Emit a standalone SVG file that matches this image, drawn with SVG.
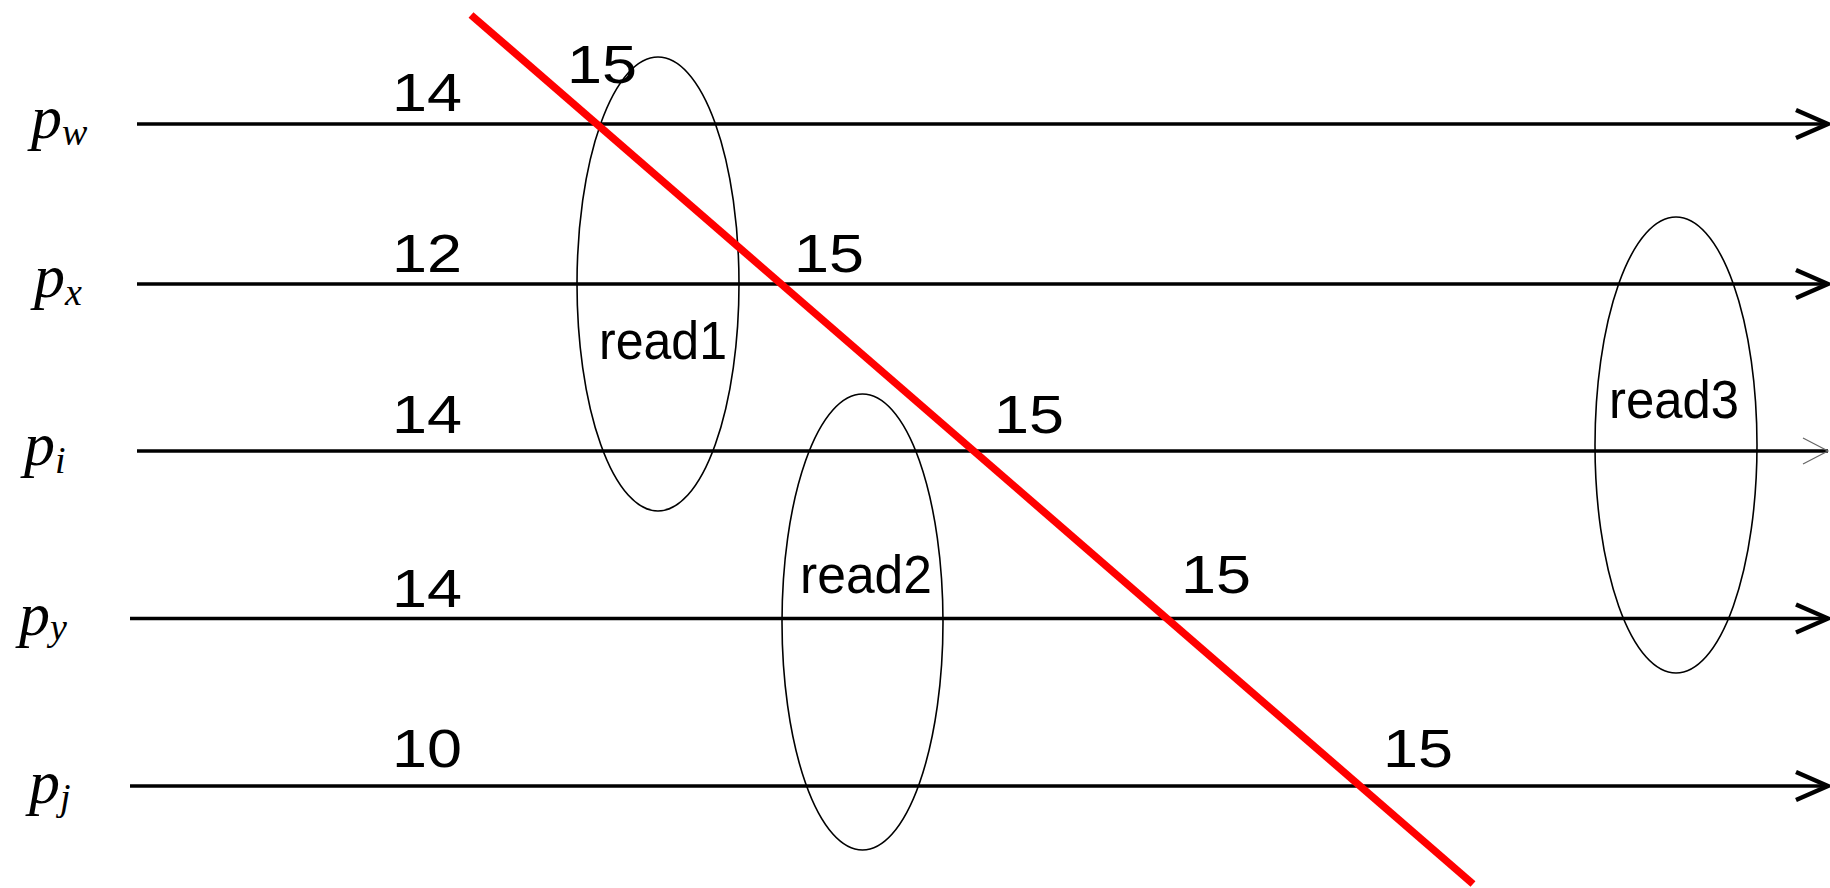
<svg xmlns="http://www.w3.org/2000/svg" width="1830" height="888" viewBox="0 0 1830 888">
<defs>
<style>
.tl{stroke:#000;stroke-width:3.3;fill:none}
.ell{fill:none;stroke:#000;stroke-width:1.6}
.pl{font-family:"Liberation Serif","Times New Roman",serif;font-style:italic;font-size:62px;fill:#000}
.sub{font-size:38px}
.num{font-family:"Liberation Sans",Arial,sans-serif;font-size:53px;fill:#000}
.rd{font-family:"Liberation Sans",Arial,sans-serif;font-size:53px;fill:#000;text-anchor:middle}
</style>
<marker id="ah" markerUnits="userSpaceOnUse" markerWidth="40" markerHeight="40" viewBox="-36 -18 40 36" refX="0" refY="0" orient="auto" overflow="visible">
<path d="M-32,-14 L0,0 L-32,14" fill="none" stroke="#000" stroke-width="4.5"/>
</marker>
<marker id="ahg" markerUnits="userSpaceOnUse" markerWidth="40" markerHeight="40" viewBox="-36 -18 40 36" refX="0" refY="0" orient="auto" overflow="visible">
<path d="M-25,-13 L0,0 L-25,13" fill="none" stroke="#666" stroke-width="1.2"/>
</marker>
</defs>
<rect width="1830" height="888" fill="#fff"/>

<g id="connectors">
<line id="line-pw" class="tl" x1="137" y1="124" x2="1828" y2="124" marker-end="url(#ah)"/>
<line id="line-px" class="tl" x1="137" y1="284" x2="1828" y2="284" marker-end="url(#ah)"/>
<line id="line-pi" class="tl" x1="137" y1="451" x2="1828" y2="451" marker-end="url(#ahg)"/>
<line id="line-py" class="tl" x1="130" y1="618.5" x2="1828" y2="618.5" marker-end="url(#ah)"/>
<line id="line-pj" class="tl" x1="130" y1="786" x2="1828" y2="786" marker-end="url(#ah)"/>
</g>

<g id="process-labels">
<g id="pw"><text class="pl" x="31" y="138">p<tspan class="sub" dy="7">w</tspan></text></g>
<g id="px"><text class="pl" x="34" y="297">p<tspan class="sub" dy="8">x</tspan></text></g>
<g id="pi"><text class="pl" x="24" y="465">p<tspan class="sub" dy="8">i</tspan></text></g>
<g id="py"><text class="pl" x="19" y="635">p<tspan class="sub" dy="5">y</tspan></text></g>
<g id="pj"><text class="pl" x="29" y="803">p<tspan class="sub" dy="7">j</tspan></text></g>
</g>

<g id="values">
<text class="num" x="392" y="111" textLength="70" lengthAdjust="spacingAndGlyphs">14</text>
<text class="num" x="567" y="83" textLength="70" lengthAdjust="spacingAndGlyphs">15</text>
<text class="num" x="392" y="272" textLength="70" lengthAdjust="spacingAndGlyphs">12</text>
<text class="num" x="794" y="272" textLength="70" lengthAdjust="spacingAndGlyphs">15</text>
<text class="num" x="392" y="433" textLength="70" lengthAdjust="spacingAndGlyphs">14</text>
<text class="num" x="994" y="433" textLength="70" lengthAdjust="spacingAndGlyphs">15</text>
<text class="num" x="392" y="607" textLength="70" lengthAdjust="spacingAndGlyphs">14</text>
<text class="num" x="1181" y="593" textLength="70" lengthAdjust="spacingAndGlyphs">15</text>
<text class="num" x="392" y="767" textLength="70" lengthAdjust="spacingAndGlyphs">10</text>
<text class="num" x="1383" y="767" textLength="70" lengthAdjust="spacingAndGlyphs">15</text>
</g>

<g id="read1">
<ellipse class="ell" cx="658" cy="284" rx="81" ry="227"/>
<text class="rd" x="663" y="359" textLength="128" lengthAdjust="spacingAndGlyphs">read1</text>
</g>
<g id="read2">
<ellipse class="ell" cx="862.5" cy="622" rx="80.5" ry="228"/>
<text class="rd" x="866" y="593" textLength="132" lengthAdjust="spacingAndGlyphs">read2</text>
</g>
<g id="read3">
<ellipse class="ell" cx="1676" cy="445" rx="81" ry="228"/>
<text class="rd" x="1674" y="418" textLength="130" lengthAdjust="spacingAndGlyphs">read3</text>
</g>

<g id="cut">
<line x1="471" y1="15" x2="1473" y2="884" stroke="#ff0000" stroke-width="7.5"/>
</g>
</svg>
